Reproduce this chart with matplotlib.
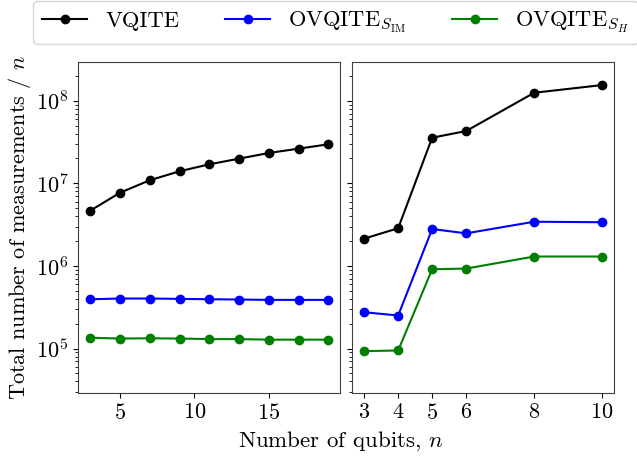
import numpy as np
import matplotlib
matplotlib.use("Agg")
import matplotlib.pyplot as plt

plt.rcParams['font.family'] = 'serif'
plt.rcParams['font.serif'] = ['cmr10', 'DejaVu Serif']
plt.rcParams['mathtext.fontset'] = 'cm'
plt.rcParams['axes.formatter.use_mathtext'] = True
plt.rcParams['font.size'] = 16

# left panel: qubit counts and measurements / n
n_left = [3, 5, 7, 9, 11, 13, 15, 17, 19]
vqite_left = [4.67e6, 7.7e6, 1.09e7, 1.40e7, 1.70e7, 1.99e7, 2.33e7, 2.63e7, 2.97e7]
sim_left = [3.95e5, 4.03e5, 4.03e5, 3.99e5, 3.95e5, 3.92e5, 3.88e5, 3.88e5, 3.88e5]
sh_left = [1.35e5, 1.32e5, 1.33e5, 1.32e5, 1.30e5, 1.30e5, 1.28e5, 1.28e5, 1.28e5]

# right panel
n_right = [3, 4, 5, 6, 8, 10]
vqite_right = [2.14e6, 2.86e6, 3.57e7, 4.30e7, 1.25e8, 1.55e8]
sim_right = [2.75e5, 2.51e5, 2.80e6, 2.48e6, 3.43e6, 3.38e6]
sh_right = [9.3e4, 9.46e4, 9.12e5, 9.29e5, 1.30e6, 1.30e6]

labels = ['VQITE', r'OVQITE$_{S_{\rm IM}}$', r'OVQITE$_{S_H}$']
colors = ['black', 'blue', 'green']

fig = plt.figure(figsize=(6.37, 4.59), dpi=100)
ax1 = fig.add_axes([0.123, 0.144, 0.411, 0.721])
ax2 = fig.add_axes([0.553, 0.144, 0.411, 0.721], sharey=ax1)

for ys, c, lab in zip([vqite_left, sim_left, sh_left], colors, labels):
    ax1.plot(n_left, ys, '-o', color=c, markersize=6, linewidth=1.5, label=lab)
for ys, c in zip([vqite_right, sim_right, sh_right], colors):
    ax2.plot(n_right, ys, '-o', color=c, markersize=6, linewidth=1.5)

ax1.set_yscale('log')
ax1.set_ylim(2.9e4, 2.95e8)
ax1.set_xticks([5, 10, 15])
ax2.set_xticks(n_right)
ax2.tick_params(labelleft=False)

for ax in (ax1, ax2):
    for s in ax.spines.values():
        s.set_edgecolor('0.25')

ax1.set_ylabel(r'Total number of measurements / $n$', labelpad=2)
fig.text(0.535, 0.012, r'Number of qubits, $n$', ha='center', va='bottom',
         fontsize=16.5)

fig.legend(loc='upper left', bbox_to_anchor=(0.052, 0.998), ncol=3,
           columnspacing=2.05, fancybox=True, fontsize=16.2, borderaxespad=0)

fig.savefig('out.png', dpi=100)
